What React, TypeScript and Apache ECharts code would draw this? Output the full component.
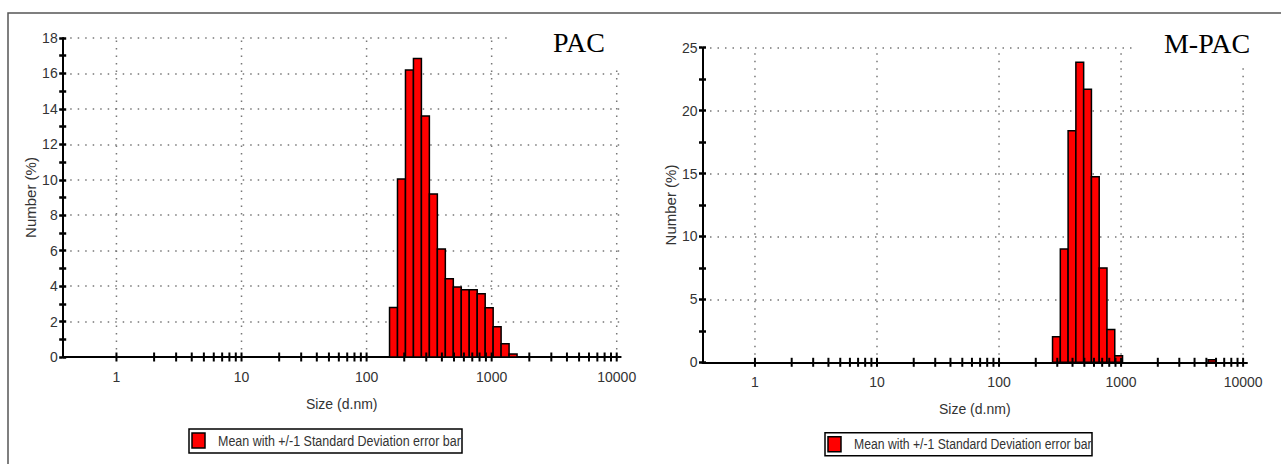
import React, { useEffect, useRef } from "react";
import * as echarts from "echarts";

const NARROW = "'Liberation Sans Narrow', 'Arial Narrow', 'Liberation Sans', sans-serif";
const SERIF = "'Liberation Serif', 'Times New Roman', serif";

const pacTitle = "PAC";
const mpacTitle = "M-PAC";
const legendText = "Mean with +/-1 Standard Deviation error bar";
const xAxisName = "Size (d.nm)";
const yAxisName = "Number (%)";

// Malvern size classes: each bar spans half a class step on either side of its size
const binHalfRatio = 1.0761;
const xMin = 0.3717;
const xMax = 10761;

const decadeTicks = [1, 10, 100, 1000, 10000];
const minorTicks = [
  2, 3, 4, 5, 6, 7, 8, 9,
  20, 30, 40, 50, 60, 70, 80, 90,
  200, 300, 400, 500, 600, 700, 800, 900,
  2000, 3000, 4000, 5000, 6000, 7000, 8000, 9000,
];

const pacSizes = [164.2, 190.1, 220.2, 255.0, 295.3, 342.0, 396.1, 458.7, 531.2, 615.1, 712.4, 825.0, 955.4, 1106, 1281, 1484];
const pacNumber = [2.8, 10.05, 16.2, 16.85, 13.6, 9.2, 6.1, 4.42, 3.95, 3.8, 3.8, 3.57, 2.78, 1.7, 0.75, 0.17];

const mpacSizes = [295.3, 342.0, 396.1, 458.7, 531.2, 615.1, 712.4, 825.0, 955.4, 5560];
const mpacNumber = [2.04, 9.0, 18.4, 23.85, 21.7, 14.75, 7.5, 2.6, 0.53, 0.2];

const pacYMax = 18;
const pacYStep = 2;
const mpacYMax = 25;
const mpacYStep = 5;

const gridLineStyle = { color: "#777", width: 1.5, type: [1.5, 6] as any };

function barSeries(gi: number, sizes: number[], values: number[]) {
  return {
    type: "custom",
    name: legendText,
    xAxisIndex: gi,
    yAxisIndex: gi * 2,
    z: 3,
    data: sizes.map((s, i) => [s, values[i]]),
    renderItem: (_p: any, api: any) => {
      const size = api.value(0);
      const v = api.value(1);
      const p0 = api.coord([size / binHalfRatio, 0]);
      const p1 = api.coord([size * binHalfRatio, v]);
      return {
        type: "rect",
        shape: { x: p0[0], y: p1[1], width: p1[0] - p0[0], height: p0[1] - p1[1] },
        style: { fill: "#ff0000", stroke: "#000", lineWidth: 1.5 },
      };
    },
  };
}

function xTickSeries(gi: number) {
  return {
    type: "custom",
    xAxisIndex: gi,
    yAxisIndex: gi * 2,
    z: 4,
    silent: true,
    data: [...decadeTicks, ...minorTicks].map((v) => [v, 0]),
    renderItem: (_p: any, api: any) => {
      const p = api.coord([api.value(0), 0]);
      return {
        type: "line",
        shape: { x1: p[0], y1: p[1] - 4.5, x2: p[0], y2: p[1] + 4.5 },
        style: { stroke: "#000", lineWidth: 2 },
      };
    },
  };
}

function vGridSeries(gi: number, yMax: number) {
  return {
    type: "custom",
    xAxisIndex: gi,
    yAxisIndex: gi * 2,
    z: 1,
    silent: true,
    data: decadeTicks.map((v) => [v, 0]),
    renderItem: (_p: any, api: any) => {
      const p0 = api.coord([api.value(0), 0]);
      const p1 = api.coord([api.value(0), yMax]);
      return {
        type: "line",
        shape: { x1: p0[0], y1: p0[1], x2: p1[0], y2: p1[1] },
        style: { stroke: "#777", lineWidth: 1.5, lineDash: [1.5, 6] },
      };
    },
  };
}

function xAxisCfg(gi: number) {
  return {
    gridIndex: gi,
    type: "log",
    logBase: 10,
    min: xMin,
    max: xMax,
    axisLine: { show: true, onZero: false, lineStyle: { color: "#000", width: 2 } },
    axisTick: { show: false },
    splitLine: { show: false },
    axisLabel: {
      showMinLabel: false,
      showMaxLabel: false,
      margin: 13,
      fontSize: 14,
      fontFamily: NARROW,
      color: "#333",
      formatter: (v: number) => String(Math.round(v)),
    },
    name: xAxisName,
    nameLocation: "middle",
    nameGap: 40,
    nameTextStyle: { fontSize: 14, fontFamily: NARROW, color: "#333" },
  };
}

function yAxisCfgs(gi: number, yMax: number, step: number) {
  const tickStyle = { color: "#000", width: 2.5 };
  return [
    {
      gridIndex: gi,
      type: "value",
      position: "left",
      min: 0,
      max: yMax,
      interval: step,
      axisLine: { show: true, lineStyle: { color: "#000", width: 2 } },
      axisTick: { show: true, length: 3.5, lineStyle: tickStyle },
      minorTick: { show: true, splitNumber: 2, length: 3.5, lineStyle: tickStyle },
      splitLine: { show: true, lineStyle: gridLineStyle },
      axisLabel: { margin: 5, fontSize: 14, fontFamily: NARROW, color: "#333" },
      name: yAxisName,
      nameLocation: "middle",
      nameGap: 24,
      nameTextStyle: { fontSize: 15, fontFamily: "'Liberation Sans', sans-serif", color: "#333" },
    },
    {
      gridIndex: gi,
      type: "value",
      position: "left",
      min: 0,
      max: yMax,
      interval: step,
      axisLine: { show: false },
      axisTick: { show: true, inside: true, length: 3.5, lineStyle: tickStyle },
      minorTick: { show: true, splitNumber: 2, length: 3.5, lineStyle: tickStyle },
      splitLine: { show: false },
      axisLabel: { show: false },
    },
  ];
}

function legendGroup(x: number, y: number, w: number, h: number, textScale: number) {
  return [
    { type: "rect", z: 100, shape: { x, y, width: w, height: h }, style: { fill: "#fff", stroke: "#000", lineWidth: 1.5 } },
    { type: "rect", z: 101, shape: { x: x + 3, y: y + 4, width: 13, height: 15 }, style: { fill: "#ff0000", stroke: "#000", lineWidth: 1.5 } },
    {
      type: "text",
      z: 101,
      x: x + 29,
      y: y + h / 2,
      scaleX: textScale,
      style: { text: legendText, fontSize: 15, fontFamily: NARROW, fill: "#333", verticalAlign: "middle", align: "left" },
    },
  ];
}

export default function App() {
  const ref = useRef<HTMLDivElement>(null);
  useEffect(() => {
    if (!ref.current) return;
    const chart = echarts.init(ref.current, null, { renderer: "svg" });

    const ctx = document.createElement("canvas").getContext("2d");
    let textW = 240;
    if (ctx) {
      ctx.font = `15px ${NARROW}`;
      textW = ctx.measureText(legendText).width;
    }
    const scaleL = 243 / textW;
    const scaleR = 238 / textW;

    chart.setOption({
      animation: false,
      backgroundColor: "#fff",
      grid: [
        { left: 62.7, top: 38, width: 558, height: 319 },
        { left: 702.5, top: 47.7, width: 544.5, height: 314.6 },
      ],
      xAxis: [xAxisCfg(0), xAxisCfg(1)],
      yAxis: [...yAxisCfgs(0, pacYMax, pacYStep), ...yAxisCfgs(1, mpacYMax, mpacYStep)],
      series: [
        vGridSeries(0, pacYMax),
        vGridSeries(1, mpacYMax),
        barSeries(0, pacSizes, pacNumber),
        barSeries(1, mpacSizes, mpacNumber),
        xTickSeries(0),
        xTickSeries(1),
      ],
      graphic: {
        elements: [
          { type: "rect", z: 90, shape: { x: 8, y: 13, width: 1290, height: 470 }, style: { fill: "none", stroke: "#555", lineWidth: 1.5 } },
          { type: "rect", z: 95, shape: { x: 507, y: 28, width: 125, height: 38 }, style: { fill: "#fff" } },
          { type: "rect", z: 95, shape: { x: 1133, y: 30, width: 125, height: 38 }, style: { fill: "#fff" } },
          { type: "text", z: 100, x: 579, y: 42, style: { text: pacTitle, fontSize: 28, fontFamily: SERIF, fill: "#000", align: "center", verticalAlign: "middle" } },
          { type: "text", z: 100, x: 1207, y: 43, style: { text: mpacTitle, fontSize: 28, fontFamily: SERIF, fill: "#000", align: "center", verticalAlign: "middle" } },
          ...legendGroup(189, 429, 273, 24, scaleL),
          ...legendGroup(825, 432.7, 267, 23, scaleR),
        ],
      },
    });
    return () => chart.dispose();
  }, []);
  return <div ref={ref} style={{ position: "fixed", left: 0, top: 0, width: 1281, height: 464, background: "#fff" }} />;
}
